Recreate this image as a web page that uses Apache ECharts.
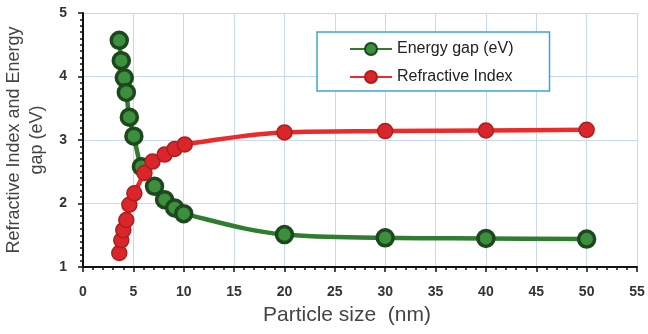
<!DOCTYPE html>
<html>
<head>
<meta charset="utf-8">
<script src="https://cdn.jsdelivr.net/npm/echarts@6/dist/echarts.min.js"></script>
<style>html,body{margin:0;padding:0;background:#fff;}#c{width:648px;height:334px;}</style>
</head>
<body>
<div id="c"></div>
<script>
const gapSize = [3.6, 3.8, 4.1, 4.3, 4.6, 5.05, 5.8, 7.1, 8.1, 9.1, 10, 20, 30, 40, 50];
const gapValues = [4.57, 4.25, 3.98, 3.75, 3.36, 3.06, 2.58, 2.27, 2.06, 1.93, 1.84, 1.51, 1.46, 1.45, 1.44];
const riSize = [3.6, 3.8, 4.0, 4.3, 4.6, 5.1, 6.1, 6.9, 8.1, 9.1, 10.1, 20, 30, 40, 50];
const riValues = [1.22, 1.42, 1.58, 1.74, 1.98, 2.16, 2.48, 2.66, 2.77, 2.86, 2.93, 3.12, 3.14, 3.15, 3.16];
const seriesNames = ['Energy gap (eV)', 'Refractive Index'];
const xTitle = 'Particle size  (nm)';
const yTitle = 'Refractive Index and Energy\ngap (eV)';

const chart = echarts.init(document.getElementById('c'));
const pair = (xs, ys) => xs.map((x, i) => [x, ys[i]]);
chart.setOption({
  animation: false,
  backgroundColor: '#fff',
  grid: { left: 83, right: 11, top: 13, bottom: 67, containLabel: false, outerBoundsMode: 'none' },
  legend: {
    left: 317, top: 32,
    orient: 'vertical',
    backgroundColor: '#fff',
    borderColor: '#3aa6d6', borderWidth: 1.5,
    padding: [9, 36, 6, 32],
    itemGap: 12, itemWidth: 42, itemHeight: 15,
    textStyle: { fontFamily: 'Liberation Sans, Arial', fontSize: 16, color: '#222' },
    data: seriesNames
  },
  xAxis: {
    type: 'value', min: 0, max: 55, interval: 5,
    name: xTitle, nameLocation: 'middle', nameGap: 38,
    nameTextStyle: { fontFamily: 'Liberation Sans, Arial', fontSize: 21, color: '#444', padding: [0, 26, 0, 0] },
    axisLine: { onZero: false, lineStyle: { color: '#111', width: 2 } },
    axisTick: { show: true, length: 5, lineStyle: { color: '#111', width: 1.5 } },
    minorTick: { show: true, splitNumber: 5, length: 3, lineStyle: { color: '#111', width: 1.5 } },
    axisLabel: { fontFamily: 'Liberation Sans, Arial', fontSize: 14, fontWeight: 'bold', color: '#333', margin: 18 },
    splitLine: { show: true, lineStyle: { color: '#c8d7f2', width: 1 } }
  },
  yAxis: {
    type: 'value', min: 1, max: 5, interval: 1,
    name: yTitle, nameLocation: 'middle', nameGap: 33, nameRotate: 90,
    nameTextStyle: { fontFamily: 'Liberation Sans, Arial', fontSize: 18, color: '#444', lineHeight: 23 },
    axisLine: { show: true, lineStyle: { color: '#111', width: 2 } },
    axisTick: { show: true, length: 5, lineStyle: { color: '#111', width: 1.5 } },
    minorTick: { show: true, splitNumber: 10, length: 3, lineStyle: { color: '#111', width: 1.5 } },
    axisLabel: { fontFamily: 'Liberation Sans, Arial', fontSize: 14, fontWeight: 'bold', color: '#333', margin: 16 },
    splitLine: { show: true, lineStyle: { color: '#c8d7f2', width: 1 } }
  },
  series: [
    {
      name: seriesNames[0], type: 'line', data: pair(gapSize, gapValues),
      smooth: 0.35, symbol: 'circle', symbolSize: 16, z: 3,
      lineStyle: { color: '#2f7d2f', width: 4.5 },
      itemStyle: { color: '#3c8f3c', borderColor: '#1d471d', borderWidth: 3.5 }
    },
    {
      name: seriesNames[1], type: 'line', data: pair(riSize, riValues),
      smooth: 0.35, symbol: 'circle', symbolSize: 15, z: 4,
      lineStyle: { color: '#ec2a2a', width: 4.5 },
      itemStyle: { color: '#d8262a', borderColor: '#b01c1c', borderWidth: 1.5 }
    }
  ]
});
</script>
</body>
</html>
